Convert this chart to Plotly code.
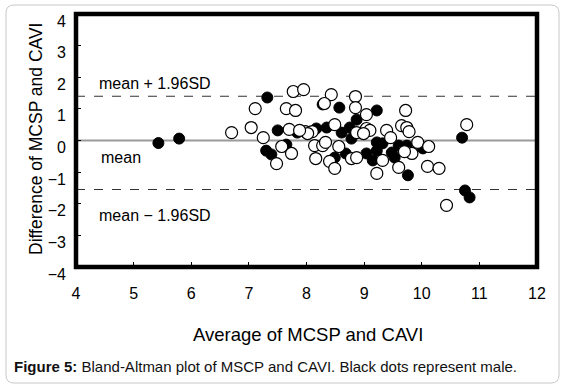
import plotly.graph_objects as go

# Male (black dots): average, difference
male_avg = [5.43, 5.79, 7.32, 7.30, 7.39, 7.50, 7.65, 7.84, 8.28, 8.57, 9.22, 8.35, 8.61, 8.87,
            8.75, 8.78, 9.22, 9.32, 9.22, 9.04, 9.48, 9.53, 9.76, 8.49, 9.15, 9.74, 10.02,
            10.70, 10.75, 10.83, 8.17, 8.68, 9.60]
male_diff = [-0.08, 0.06, 1.36, -0.32, -0.44, 0.32, -0.13, 0.25, 1.14, 1.04, 0.95, 0.41, 0.25, 0.66,
             0.41, 0.06, -0.06, -0.09, -0.32, -0.41, -0.38, -0.54, -1.10, -0.54, -0.63, -0.16, -0.25,
             0.09, -1.58, -1.80, 0.38, -0.41, -0.16]

# Female (open dots): average, difference
female_avg = [6.70, 7.04, 7.11, 7.25, 7.57, 7.48, 7.74, 7.65, 7.81, 7.77, 7.95, 7.70, 7.98, 8.10,
              8.14, 8.28, 8.16, 8.40, 8.49, 8.43, 8.85, 8.31, 8.85, 9.04, 9.72, 8.49, 8.87, 9.04,
              9.10, 9.39, 9.65, 9.74, 8.56, 8.78, 8.87, 9.22, 9.32, 9.60, 9.83, 9.93, 10.12, 10.10,
              10.30, 10.78, 10.43, 8.02, 8.99, 7.88, 8.33, 9.46, 9.70, 9.78]
female_diff = [0.25, 0.41, 1.01, 0.09, -0.19, -0.73, -0.41, 1.01, 0.95, 1.55, 1.61, 0.35, 0.28, 0.28,
               -0.16, -0.16, -0.57, -0.66, -0.88, 1.45, 1.39, 1.17, 1.04, 0.82, 0.95, 0.50, 0.25, 0.38,
               0.32, 0.32, 0.47, 0.41, -0.19, -0.57, -0.54, -1.04, -0.63, -0.85, -0.41, -0.06, -0.19, -0.82,
               -0.88, 0.50, -2.05, 0.22, 0.22, 0.32, -0.06, 0.09, -0.35, 0.28]

mean_diff = 0.0
upper_loa = 1.40
lower_loa = -1.55

x_ticks = [4, 5, 6, 7, 8, 9, 10, 11, 12]
y_ticks = [-4, -3, -2, -1, 0, 1, 2, 3, 4]

FONT = "Liberation Sans, Arial, sans-serif"

# plot area in pixels (left, right, top, bottom)
PL, PR, PT, PB = 76, 537, 14, 267
W, H = 567, 391
PW, PH = PR - PL, PB - PT


def px(x):
    return (x - PL) / PW


def py(y):
    return (PB - y) / PH


fig = go.Figure()

fig.add_trace(go.Scatter(x=male_avg, y=male_diff, mode="markers",
                         marker=dict(size=11, color="black", line=dict(color="black", width=1)),
                         showlegend=False))
fig.add_trace(go.Scatter(x=female_avg, y=female_diff, mode="markers",
                         marker=dict(size=12, color="white", line=dict(color="black", width=1.2)),
                         showlegend=False))

# reference lines
fig.add_shape(type="line", xref="paper", x0=0, x1=1, yref="y", y0=mean_diff, y1=mean_diff,
              line=dict(color="#9a9a9a", width=1.8), layer="below")
for v in (upper_loa, lower_loa):
    fig.add_shape(type="line", xref="paper", x0=0, x1=1, yref="y", y0=v, y1=v,
                  line=dict(color="#333333", width=1.2, dash="dash"), layer="below")

# plot frame
fig.add_shape(type="rect", xref="paper", yref="paper", x0=0, x1=1, y0=0, y1=1,
              line=dict(color="black", width=4.5))

# outer rounded border
x0, x1 = px(6), px(559)
y0, y1 = py(383), py(5)
rx, ry = 8 / PW, 8 / PH
path = (f"M {x0+rx} {y1} L {x1-rx} {y1} Q {x1} {y1} {x1} {y1-ry} "
        f"L {x1} {y0+ry} Q {x1} {y0} {x1-rx} {y0} "
        f"L {x0+rx} {y0} Q {x0} {y0} {x0} {y0+ry} "
        f"L {x0} {y1-ry} Q {x0} {y1} {x0+rx} {y1} Z")
fig.add_shape(type="path", xref="paper", yref="paper", path=path,
              line=dict(color="#c8c8c8", width=1))

anns = [
    dict(text="mean + 1.96SD", x=px(97), y=py(84)),
    dict(text="mean", x=px(99), y=py(157)),
    dict(text="mean − 1.96SD", x=px(97), y=py(215)),
]
for a in anns:
    fig.add_annotation(x=a["x"], y=a["y"], xref="paper", yref="paper", text=a["text"], showarrow=False,
                       xanchor="left", yanchor="middle", font=dict(family=FONT, size=16, color="black"))

fig.add_annotation(text="Average of MCSP and CAVI", xref="paper", yref="paper",
                   x=px(308), y=py(334), showarrow=False,
                   xanchor="center", yanchor="middle", font=dict(family=FONT, size=18.5, color="black"))
fig.add_annotation(text="Difference of MCSP and CAVI", xref="paper", yref="paper",
                   x=px(36), y=py(139), showarrow=False, textangle=-90,
                   xanchor="center", yanchor="middle", font=dict(family=FONT, size=17.5, color="black"))
fig.add_annotation(text="<b>Figure 5:</b> Bland-Altman plot of MSCP and CAVI. Black dots represent male.",
                   xref="paper", yref="paper", x=px(12), y=py(366), showarrow=False,
                   xanchor="left", yanchor="middle", font=dict(family=FONT, size=15, color="#111111"))

fig.update_xaxes(range=[4, 12], tickvals=x_ticks, ticktext=[str(v) for v in x_ticks],
                 ticks="inside", ticklen=5, tickcolor="black", tickwidth=1,
                 showgrid=False, zeroline=False, showline=False,
                 tickfont=dict(family=FONT, size=16, color="black"), ticklabelstandoff=15)
fig.update_yaxes(range=[-4, 4], tickvals=y_ticks,
                 ticks="inside", ticklen=5, tickcolor="black", tickwidth=1,
                 showgrid=False, zeroline=False, showline=False,
                 tickfont=dict(family=FONT, size=16, color="black"),
                 ticklabelstandoff=9, ticklabelshift=7)

fig.update_layout(width=W, height=H, margin=dict(l=PL, r=W - PR, t=PT, b=H - PB),
                  plot_bgcolor="white", paper_bgcolor="white", showlegend=False)

fig.write_html("out.html", config={"displayModeBar": False},
               post_script="document.body.style.margin='0';document.body.style.overflow='hidden';")
